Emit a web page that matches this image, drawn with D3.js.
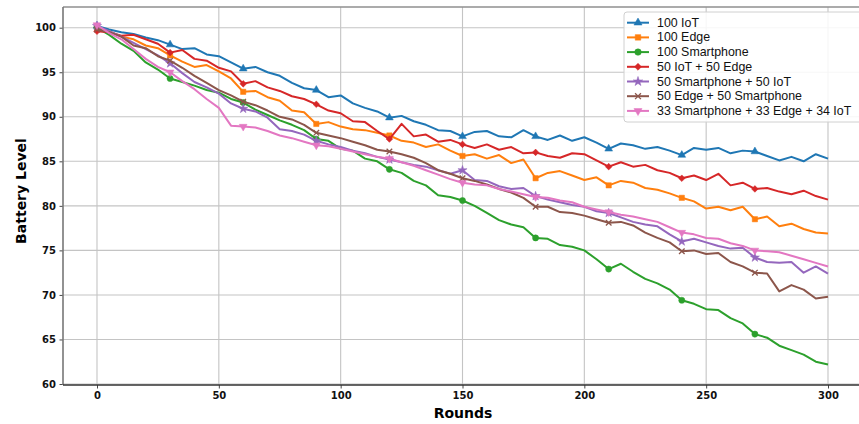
<!DOCTYPE html>
<html>
<head>
<meta charset="utf-8">
<script src="https://cdn.jsdelivr.net/npm/d3@7"></script>
<style>
  body { margin: 0; background: #fff; }
  svg { display: block; }
</style>
</head>
<body>
<svg id="chart"></svg>
<script>
const rounds = d3.range(0, 301, 5)

const iot100 = [100.2,99.8,99.5,99.3,98.9,98.6,98.1,97.6,97.7,97.0,96.8,96.1,95.4,95.6,95.0,94.6,93.8,93.2,93.0,92.2,92.4,91.5,91.0,90.6,89.9,90.1,89.5,89.1,88.5,88.4,87.8,88.3,88.4,87.8,87.7,88.5,87.8,87.4,87.9,87.3,87.7,87.1,86.4,87.0,86.8,86.4,86.6,86.2,85.7,86.5,86.3,86.5,85.9,86.2,86.1,85.6,85.1,85.5,85.0,85.8,85.3]
const edge100 = [100.0,99.6,99.0,98.7,98.0,97.7,96.9,96.2,95.6,95.8,95.1,94.3,92.8,92.9,92.2,91.8,90.7,90.5,89.2,89.4,88.9,88.6,88.5,88.2,87.9,87.3,87.1,86.6,86.9,86.2,85.6,85.8,85.3,85.7,84.8,85.2,83.1,83.7,83.9,83.4,82.9,83.2,82.3,82.8,82.6,82.0,81.8,81.4,80.9,80.5,79.7,79.9,79.5,79.9,78.5,78.8,77.7,78.0,77.4,77.0,76.9]
const phone100 = [100.0,99.2,98.2,97.4,96.1,95.3,94.3,93.9,93.5,93.0,92.7,92.0,91.6,90.8,90.2,89.6,89.1,88.5,87.5,87.3,86.4,86.2,85.3,85.0,84.1,83.7,82.8,82.3,81.2,81.0,80.6,80.0,79.2,78.4,77.9,77.6,76.4,76.3,75.6,75.4,75.0,74.0,72.9,73.5,72.6,71.8,71.3,70.6,69.4,69.0,68.4,68.3,67.4,66.8,65.6,65.2,64.3,63.8,63.3,62.5,62.2]
const iotEdge = [99.6,99.5,99.1,99.2,98.7,98.2,97.2,97.5,96.5,96.3,95.5,95.1,93.7,94.0,93.3,92.9,92.3,92.0,91.4,90.7,90.4,89.5,89.4,88.4,87.5,89.2,87.8,88.0,87.2,87.4,86.9,86.5,86.9,86.3,86.6,85.9,86.0,85.6,85.4,85.9,85.8,85.1,84.4,84.9,84.4,84.6,84.0,83.7,83.1,83.4,82.9,83.6,82.3,82.6,81.9,82.0,81.6,81.3,81.7,81.1,80.7]
const phoneIot = [100.2,99.6,99.0,98.3,97.6,96.9,96.0,94.9,93.9,93.3,92.6,91.5,90.9,90.6,89.9,88.6,88.4,88.0,87.3,86.9,86.6,86.2,85.9,85.5,85.2,84.9,84.6,84.4,84.0,83.6,84.0,82.9,82.8,82.2,81.9,82.0,81.1,80.7,80.4,80.1,79.9,79.4,79.2,78.7,78.2,77.9,77.7,76.8,76.0,76.3,75.9,75.5,75.2,75.3,74.2,73.7,73.6,73.7,72.5,73.2,72.4]
const edgePhone = [99.8,99.5,99.0,98.0,97.7,96.8,96.3,95.5,94.6,93.8,93.0,92.4,91.7,91.3,90.7,90.0,89.7,89.1,88.2,87.9,87.6,87.2,86.8,86.3,86.1,85.8,85.4,84.8,84.0,83.6,83.1,82.8,82.4,81.9,81.5,80.9,79.9,79.9,79.3,79.2,78.9,78.5,78.1,78.2,77.8,77.0,76.4,75.9,74.9,75.0,74.6,74.7,73.7,73.2,72.5,72.4,70.4,71.1,70.6,69.6,69.8]
const mixed = [100.3,99.4,98.7,97.6,96.5,95.6,95.0,94.0,93.1,92.0,91.0,89.0,88.9,88.8,88.4,87.9,87.6,87.2,86.8,86.7,86.4,86.1,85.8,85.5,85.3,84.9,84.5,84.0,83.5,83.0,82.6,82.4,82.3,81.9,81.6,81.3,81.0,80.9,80.6,80.4,79.9,79.6,79.3,79.0,78.8,78.5,78.2,77.6,77.0,76.8,76.4,76.3,75.8,75.5,75.0,74.9,74.8,74.4,74.0,73.6,73.2]

const names = ["100 IoT", "100 Edge", "100 Smartphone", "50 IoT + 50 Edge",
  "50 Smartphone + 50 IoT", "50 Edge + 50 Smartphone", "33 Smartphone + 33 Edge + 34 IoT"]
const allSeries = [iot100, edge100, phone100, iotEdge, phoneIot, edgePhone, mixed]
const xTicks = [0, 50, 100, 150, 200, 250, 300]
const yTicks = [60, 65, 70, 75, 80, 85, 90, 95, 100]

// colors and markers
const color = ["#1f77b4", "#ff7f0e", "#2ca02c", "#d62728", "#9467bd", "#8c564b", "#e377c2"]
const markerEvery = 30

// set the dimensions of the graph
const width = 859, height = 424
const pLeft = 63, pTop = 7, pBottom = 385, pRight = 859

const svg = d3.select("#chart").attr("width", width).attr("height", height)

const x = d3.scaleLinear().domain([0, 300]).range([97, 828])
const y = d3.scaleLinear().domain([60, 100]).range([384, 27.7])

// grid
svg.append("g").selectAll("line").data(xTicks).join("line")
  .attr("x1", d => x(d)).attr("x2", d => x(d))
  .attr("y1", pTop).attr("y2", pBottom)
  .attr("stroke", "#c4c4c4").attr("stroke-width", 1.1)
svg.append("g").selectAll("line").data(yTicks).join("line")
  .attr("x1", pLeft).attr("x2", pRight)
  .attr("y1", d => y(d)).attr("y2", d => y(d))
  .attr("stroke", "#c4c4c4").attr("stroke-width", 1.1)

// axes
const xAxis = svg.append("g").attr("transform", `translate(0,${pBottom})`)
  .call(d3.axisBottom(x).tickValues(xTicks).tickSize(3.5).tickPadding(3.5).tickSizeOuter(0))
const yAxis = svg.append("g").attr("transform", `translate(${pLeft},0)`)
  .call(d3.axisLeft(y).tickValues(yTicks).tickSize(3.5).tickPadding(3.5).tickSizeOuter(0))
;[xAxis, yAxis].forEach(a => {
  a.select(".domain").remove()
  a.selectAll(".tick line").attr("stroke", "#333").attr("stroke-width", 0.9)
  a.selectAll("text")
    .style("font-family", "DejaVu Sans")
    .style("font-size", "10px")
    .style("font-weight", "bold")
    .attr("fill", "#111")
})

// spines
svg.append("line").attr("x1", pLeft).attr("x2", pRight).attr("y1", pTop).attr("y2", pTop)
  .attr("stroke", "#8f8f8f").attr("stroke-width", 1.6)
svg.append("line").attr("x1", pLeft).attr("x2", pLeft).attr("y1", pTop).attr("y2", pBottom)
  .attr("stroke", "#777").attr("stroke-width", 1.6)
svg.append("line").attr("x1", pLeft).attr("x2", pRight).attr("y1", pBottom).attr("y2", pBottom)
  .attr("stroke", "#333").attr("stroke-width", 1.6)

// axis labels
svg.append("text").attr("x", 463).attr("y", 418).text("Rounds")
  .style("font-family", "DejaVu Sans").style("font-size", "14px").style("font-weight", "bold")
  .attr("text-anchor", "middle")
svg.append("text").attr("transform", "translate(26,191) rotate(-90)").text("Battery Level")
  .style("font-family", "DejaVu Sans").style("font-size", "14px").style("font-weight", "bold")
  .attr("text-anchor", "middle")

// marker shapes (small, like the reference)
function marker(i, k) {
  const f = k || 1
  if (i == 0) return { d: d3.symbol(d3.symbolTriangle, 26 * f)(), rot: 0 }
  if (i == 1) return { d: d3.symbol(d3.symbolSquare, 28 * f)(), rot: 0 }
  if (i == 2) return { d: d3.symbol(d3.symbolCircle, 30 * f)(), rot: 0 }
  if (i == 3) return { d: d3.symbol(d3.symbolSquare, 22 * f)(), rot: 45 }
  if (i == 4) return { d: d3.symbol(d3.symbolStar, 26 * f)(), rot: 0 }
  if (i == 5) return { d: d3.symbol(d3.symbolTimes, 22 * f)(), rot: 0 }
  return { d: d3.symbol(d3.symbolTriangle, 26 * f)(), rot: 180 }
}

const line = d3.line().x(d => x(d[0])).y(d => y(d[1]))

const plot = svg.append("g")
allSeries.forEach((vals, i) => {
  const pts = rounds.map((r, j) => [r, vals[j]])
  plot.append("path").datum(pts)
    .attr("d", line)
    .attr("fill", "none")
    .attr("stroke", color[i])
    .attr("stroke-width", 2)
    .attr("stroke-linejoin", "round")
  const m = marker(i)
  plot.append("g").selectAll("path")
    .data(pts.filter(p => p[0] % markerEvery == 0 && p[0] < 300))
    .join("path")
    .attr("d", m.d)
    .attr("transform", p => `translate(${x(p[0])},${y(p[1])}) rotate(${m.rot})`)
    .attr("fill", i == 5 ? "none" : color[i])
    .attr("stroke", color[i])
    .attr("stroke-width", i == 5 ? 1.3 : 0.5)
})

// legend
const lg = svg.append("g").attr("transform", "translate(624,12)")
lg.append("rect").attr("x", 0).attr("y", 0).attr("width", 240).attr("height", 110).attr("rx", 3)
  .attr("fill", "white").attr("fill-opacity", 0.85).attr("stroke", "#d0d0d0")
names.forEach((n, i) => {
  const cy = 10.7 + i * 14.7
  lg.append("line").attr("x1", 3).attr("x2", 25).attr("y1", cy).attr("y2", cy)
    .attr("stroke", color[i]).attr("stroke-width", 2)
  const m = marker(i, 1.1)
  lg.append("path").attr("d", m.d)
    .attr("transform", `translate(14,${cy}) rotate(${m.rot})`)
    .attr("fill", i == 5 ? "none" : color[i]).attr("stroke", color[i])
    .attr("stroke-width", i == 5 ? 1.3 : 0.5)
  lg.append("text").attr("x", 33).attr("y", cy).text(n)
    .style("font-family", "Liberation Sans").style("font-size", "12.4px")
    .attr("dominant-baseline", "central").attr("fill", "#111")
})
</script>
</body>
</html>
